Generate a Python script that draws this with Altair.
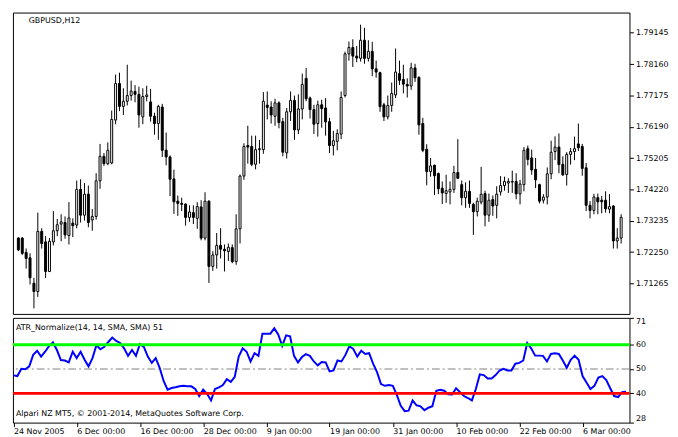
import json
import altair as alt
import pandas as pd

# ---------------- data ----------------
opens = [1.7269,1.7269,1.7224,1.7207,1.7127,1.7101,1.7290,1.7257,1.7164,1.7257,
         1.7292,1.7313,1.7318,1.7277,1.7316,1.7310,1.7422,1.7341,1.7407,1.7326,
         1.7337,1.7449,1.7526,1.7503,1.7505,1.7640,1.7755,1.7683,1.7699,1.7717,
         1.7730,1.7721,1.7650,1.7714,1.7697,1.7652,1.7629,1.7681,1.7545,1.7524,
         1.7455,1.7385,1.7378,1.7376,1.7334,1.7349,1.7331,1.7367,1.7269,1.7385,
         1.7180,1.7216,1.7246,1.7234,1.7227,1.7239,1.7195,1.7298,1.7464,1.7560,
         1.7557,1.7501,1.7547,1.7547,1.7687,1.7681,1.7652,1.7694,1.7635,1.7537,
         1.7666,1.7702,1.7609,1.7675,1.7771,1.7709,1.7673,1.7629,1.7688,1.7678,
         1.7635,1.7560,1.7573,1.7596,1.7717,1.7848,1.7868,1.7841,1.7834,1.7891,
         1.7834,1.7856,1.7801,1.7789,1.7688,1.7650,1.7686,1.7719,1.7786,1.7768,
         1.7752,1.7747,1.7804,1.7774,1.7629,1.7548,1.7478,1.7498,1.7472,1.7426,
         1.7409,1.7414,1.7422,1.7475,1.7437,1.7396,1.7416,1.7375,1.7352,1.7382,
         1.7409,1.7341,1.7390,1.7372,1.7414,1.7434,1.7442,1.7445,1.7447,1.7408,
         1.7437,1.7550,1.7521,1.7485,1.7437,1.7388,1.7398,1.7471,1.7541,1.7555,
         1.7501,1.7469,1.7532,1.7541,1.7565,1.7557,1.7490,1.7372,1.7356,1.7396,
         1.7388,1.7388,1.7360,1.7370,1.7260,1.7269]
highs = [1.7272,1.7272,1.7236,1.7221,1.7144,1.7349,1.7300,1.7275,1.7269,1.7354,
         1.7329,1.7344,1.7337,1.7382,1.7331,1.7450,1.7454,1.7442,1.7434,1.7360,
         1.7473,1.7565,1.7536,1.7570,1.7670,1.7783,1.7789,1.7740,1.7814,1.7764,
         1.7750,1.7745,1.7740,1.7748,1.7738,1.7663,1.7688,1.7691,1.7601,1.7529,
         1.7484,1.7403,1.7396,1.7378,1.7372,1.7372,1.7382,1.7388,1.7413,1.7388,
         1.7228,1.7285,1.7300,1.7249,1.7252,1.7249,1.7344,1.7469,1.7567,1.7622,
         1.7591,1.7591,1.7578,1.7728,1.7730,1.7699,1.7707,1.7699,1.7647,1.7678,
         1.7730,1.7717,1.7721,1.7786,1.7804,1.7714,1.7688,1.7701,1.7704,1.7709,
         1.7647,1.7606,1.7611,1.7730,1.7855,1.7887,1.7894,1.7873,1.7940,1.7930,
         1.7891,1.7886,1.7827,1.7792,1.7694,1.7717,1.7758,1.7865,1.7827,1.7814,
         1.7771,1.7820,1.7817,1.7778,1.7647,1.7564,1.7521,1.7500,1.7475,1.7447,
         1.7468,1.7447,1.7496,1.7580,1.7450,1.7444,1.7450,1.7380,1.7396,1.7493,
         1.7418,1.7409,1.7403,1.7432,1.7464,1.7462,1.7457,1.7481,1.7473,1.7452,
         1.7555,1.7560,1.7547,1.7521,1.7440,1.7407,1.7491,1.7575,1.7589,1.7598,
         1.7526,1.7539,1.7552,1.7588,1.7629,1.7565,1.7505,1.7385,1.7408,1.7409,
         1.7401,1.7416,1.7407,1.7372,1.7300,1.7344]
lows = [1.7228,1.7216,1.7173,1.7123,1.7048,1.7084,1.7236,1.7144,1.7162,1.7246,
        1.7275,1.7259,1.7267,1.7249,1.7272,1.7300,1.7318,1.7324,1.7303,1.7292,
        1.7327,1.7424,1.7496,1.7498,1.7501,1.7627,1.7668,1.7656,1.7686,1.7701,
        1.7696,1.7616,1.7627,1.7699,1.7635,1.7594,1.7578,1.7524,1.7498,1.7401,
        1.7345,1.7339,1.7354,1.7308,1.7320,1.7313,1.7298,1.7262,1.7262,1.7128,
        1.7166,1.7173,1.7205,1.7164,1.7197,1.7190,1.7185,1.7252,1.7452,1.7503,
        1.7495,1.7485,1.7503,1.7534,1.7642,1.7629,1.7622,1.7614,1.7526,1.7519,
        1.7637,1.7578,1.7596,1.7642,1.7699,1.7645,1.7596,1.7588,1.7616,1.7591,
        1.7536,1.7529,1.7545,1.7580,1.7711,1.7827,1.7807,1.7822,1.7824,1.7817,
        1.7824,1.7778,1.7773,1.7666,1.7637,1.7642,1.7666,1.7709,1.7750,1.7724,
        1.7711,1.7735,1.7760,1.7594,1.7539,1.7435,1.7462,1.7404,1.7407,1.7376,
        1.7380,1.7375,1.7411,1.7456,1.7372,1.7364,1.7364,1.7279,1.7337,1.7375,
        1.7306,1.7320,1.7339,1.7331,1.7403,1.7418,1.7411,1.7411,1.7391,1.7375,
        1.7416,1.7498,1.7468,1.7426,1.7378,1.7378,1.7375,1.7454,1.7514,1.7473,
        1.7464,1.7434,1.7500,1.7514,1.7543,1.7465,1.7354,1.7331,1.7344,1.7344,
        1.7347,1.7349,1.7347,1.7236,1.7236,1.7252]
closes = [1.7232,1.7221,1.7205,1.7144,1.7101,1.7290,1.7252,1.7164,1.7259,1.7292,
          1.7311,1.7320,1.7279,1.7332,1.7308,1.7422,1.7341,1.7407,1.7318,1.7337,
          1.7449,1.7526,1.7503,1.7545,1.7642,1.7755,1.7683,1.7699,1.7717,1.7731,
          1.7721,1.7656,1.7714,1.7719,1.7652,1.7629,1.7683,1.7545,1.7524,1.7454,
          1.7383,1.7378,1.7375,1.7334,1.7351,1.7334,1.7368,1.7269,1.7385,1.7180,
          1.7216,1.7246,1.7234,1.7229,1.7240,1.7195,1.7298,1.7464,1.7557,1.7555,
          1.7501,1.7547,1.7550,1.7699,1.7680,1.7656,1.7694,1.7632,1.7539,1.7666,
          1.7702,1.7609,1.7675,1.7752,1.7707,1.7673,1.7627,1.7688,1.7676,1.7634,
          1.7560,1.7575,1.7598,1.7711,1.7848,1.7868,1.7841,1.7835,1.7891,1.7834,
          1.7856,1.7801,1.7791,1.7682,1.7650,1.7686,1.7724,1.7791,1.7765,1.7753,
          1.7747,1.7804,1.7773,1.7625,1.7545,1.7478,1.7496,1.7465,1.7424,1.7411,
          1.7418,1.7422,1.7475,1.7457,1.7396,1.7416,1.7378,1.7352,1.7385,1.7407,
          1.7341,1.7388,1.7370,1.7407,1.7434,1.7447,1.7447,1.7447,1.7408,1.7439,
          1.7545,1.7516,1.7483,1.7452,1.7385,1.7398,1.7471,1.7539,1.7555,1.7500,
          1.7468,1.7532,1.7541,1.7550,1.7553,1.7488,1.7372,1.7356,1.7398,1.7383,
          1.7383,1.7361,1.7368,1.7260,1.7269,1.7334]
atr = [47.4,47.1,50.1,49.9,51.1,55.8,57.5,55.1,57.1,59.4,
       60.9,57.8,53.7,53.5,52.7,57.1,54.5,57.1,53.8,51.1,
       54.5,59.8,58.1,59.1,61.1,62.9,61.5,60.7,58.5,55.4,
       57.8,55.4,60.2,59.1,55.1,52.5,54.5,50.5,45.1,41.5,
       42.2,42.5,42.9,43.1,42.9,42.9,41.8,38.9,41.5,39.8,
       37.1,41.8,42.5,43.4,45.8,44.7,46.8,55.1,58.5,57.1,
       53.1,56.5,55.4,64.5,64.5,64.5,66.7,64.2,59.5,63.8,
       63.4,55.4,52.7,54.9,56.1,55.4,53.1,51.5,52.9,52.7,
       49.0,49.4,53.5,53.1,55.8,59.4,58.2,55.1,57.5,56.2,
       56.5,52.2,48.7,43.8,43.1,43.4,43.1,39.4,34.9,32.7,
       32.9,37.1,35.1,34.7,33.1,34.1,34.7,41.1,41.5,41.1,
       39.6,39.5,42.1,40.5,38.9,38.1,37.1,41.8,47.8,47.5,
       46.1,46.1,47.5,49.4,50.1,49.4,49.4,52.2,52.5,53.5,
       60.7,58.5,55.5,55.5,55.4,53.1,56.2,56.5,56.2,53.5,
       50.5,53.8,55.5,53.8,47.1,44.5,41.8,43.1,46.5,47.1,
       45.5,42.1,38.9,38.5,40.5,40.7]

tick_bars = [1, 17, 33, 49, 65, 81, 97, 113, 129, 145]
tick_labels = ["24 Nov 2005", "6 Dec 00:00", "16 Dec 00:00", "28 Dec 00:00",
               "9 Jan 00:00", "19 Jan 00:00", "31 Jan 00:00", "10 Feb 00:00",
               "22 Feb 00:00", "6 Mar 00:00"]
price_ticks = [1.71265, 1.72250, 1.73235, 1.74220, 1.75205, 1.76190,
               1.77175, 1.78160, 1.79145]
price_domain = [1.70306, 1.79780]
ind_ticks = [28, 40, 50, 60, 71]
ind_domain = [28, 71]
levels_hi = [60]
levels_mid = [50]
levels_lo = [40]
symbol_text = ["GBPUSD,H12"]
ind_text = ["ATR_Normalize(14, 14, SMA, SMA) 51"]
copy_text = ["Alpari NZ MT5, \u00a9 2001-2014, MetaQuotes Software Corp."]

FONT = "DejaVu Sans"
FS = 8
W = 624
H1 = 305
H2 = 106

bars = list(range(1, len(closes) + 1))
df = pd.DataFrame({"bar": bars, "open": opens, "high": highs,
                   "low": lows, "close": closes})
ind = pd.DataFrame({"bar": bars, "atr": atr})

xscale = alt.Scale(domain=[0.875, 156.875], nice=False, zero=False)
pscale = alt.Scale(domain=price_domain, nice=False, zero=False)
iscale = alt.Scale(domain=ind_domain, nice=False, zero=False)


def price_axis():
    return alt.Axis(orient="right", values=price_ticks, format=".5f",
                    title=None, grid=False, domain=False, tickSize=4,
                    tickColor="black", labelColor="black", labelFont=FONT,
                    labelFontSize=FS, labelPadding=2)


def ind_axis():
    return alt.Axis(orient="right", values=ind_ticks, title=None, grid=False,
                    domain=False, tickSize=4, tickColor="black",
                    labelColor="black", labelFont=FONT, labelFontSize=FS,
                    labelPadding=2, labelFlush=True)


def x_axis():
    date_expr = json.dumps(tick_labels) + "[round((datum.value - 1) / 16)]"
    return alt.Axis(values=tick_bars, labelExpr=date_expr, title=None,
                    grid=False, domain=False, tickSize=4, tickColor="black",
                    labelAlign="left", labelBaseline="top", labelPadding=1,
                    labelColor="black", labelFont=FONT, labelFontSize=FS,
                    labelFlush=False, labelOverlap=False)


wick = alt.Chart(df).mark_rule(color="black", strokeWidth=1).encode(
    x=alt.X("bar:Q", scale=xscale, axis=None),
    y=alt.Y("low:Q", scale=pscale, axis=price_axis()),
    y2="high:Q",
)
body = alt.Chart(df).mark_bar(size=2, stroke="black", strokeWidth=1).encode(
    x=alt.X("bar:Q", scale=xscale, axis=None),
    y=alt.Y("open:Q", scale=pscale, axis=price_axis()),
    y2="close:Q",
    fill=alt.condition("datum.close >= datum.open",
                       alt.value("white"), alt.value("black")),
)
sym = alt.Chart(pd.DataFrame({"t": symbol_text})).mark_text(
    align="left", baseline="alphabetic", font=FONT, fontSize=FS, color="black"
).encode(x=alt.value(16), y=alt.value(11), text="t:N")

top = alt.layer(wick, body, sym).properties(width=W, height=H1)

line = alt.Chart(ind).mark_line(color="#0000ff", strokeWidth=2).encode(
    x=alt.X("bar:Q", scale=xscale, axis=x_axis()),
    y=alt.Y("atr:Q", scale=iscale, axis=ind_axis()),
)
hi = alt.Chart(pd.DataFrame({"v": levels_hi})).mark_rule(
    color="#00ff00", strokeWidth=3).encode(
    y=alt.Y("v:Q", scale=iscale, axis=ind_axis()))
lo = alt.Chart(pd.DataFrame({"v": levels_lo})).mark_rule(
    color="#ff0000", strokeWidth=3).encode(
    y=alt.Y("v:Q", scale=iscale, axis=ind_axis()))
mid = alt.Chart(pd.DataFrame({"v": levels_mid})).mark_rule(
    color="#808080", strokeWidth=1, strokeDash=[8, 3, 2, 3]).encode(
    y=alt.Y("v:Q", scale=iscale, axis=ind_axis()))
t1 = alt.Chart(pd.DataFrame({"t": ind_text})).mark_text(
    align="left", baseline="alphabetic", font=FONT, fontSize=FS, color="black"
).encode(x=alt.value(3), y=alt.value(12), text="t:N")
t2 = alt.Chart(pd.DataFrame({"t": copy_text})).mark_text(
    align="left", baseline="alphabetic", font=FONT, fontSize=FS, color="black"
).encode(x=alt.value(3), y=alt.value(H2 - 7), text="t:N")

bottom = alt.layer(mid, line, hi, lo, t1, t2).properties(width=W, height=H2)

chart = alt.vconcat(top, bottom, spacing=2).properties(
    padding={"left": 1, "top": 1, "right": 1, "bottom": 1},
    background="white",
).configure_view(stroke="black", strokeWidth=1)

chart.save("out.html", embed_options={"renderer": "svg", "actions": False})
